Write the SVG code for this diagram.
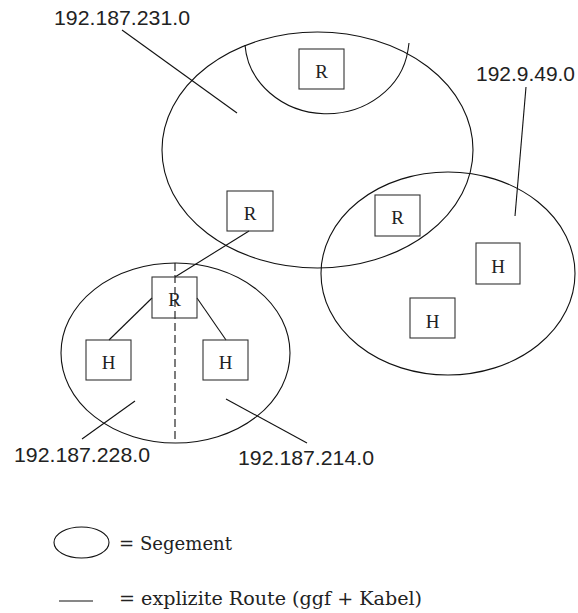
<svg xmlns="http://www.w3.org/2000/svg" width="578" height="613" viewBox="0 0 578 613">
<style>
.seg{fill:none;stroke:#111;stroke-width:1.1}
.box{fill:none;stroke:#333;stroke-width:1.1}
.bt{font-family:"Liberation Serif","Times New Roman",serif;font-size:19px;fill:#222;text-anchor:middle}
.lbl{font-family:"Liberation Sans",Arial,sans-serif;font-size:21px;fill:#222}
.leg{font-family:"DejaVu Serif",serif;font-size:19px;fill:#222}
.ln{stroke:#111;stroke-width:1.1;fill:none}
</style>
<rect width="578" height="613" fill="#fff"/>
<g id="segments">
<ellipse id="seg-231" class="seg" cx="317.5" cy="150" rx="155.5" ry="118"/>
<path id="seg-231-sub" class="seg" d="M245,45 A82,74 0 0 0 408,50 L409,43"/>
<ellipse id="seg-9-49" class="seg" cx="448" cy="273.5" rx="127" ry="101.5"/>
<ellipse id="seg-228-214" class="seg" cx="175.5" cy="353" rx="114.5" ry="90"/>
</g>
<g id="connectors">
<line class="ln" x1="249" y1="231" x2="175" y2="277"/>
<line class="ln" x1="152" y1="298" x2="109" y2="340"/>
<line class="ln" x1="197" y1="298" x2="226" y2="340"/>
<line class="ln" x1="175" y1="263" x2="175" y2="443" stroke-dasharray="8,4"/>
<line class="ln" x1="122" y1="30" x2="237" y2="113"/>
<line class="ln" x1="526" y1="87" x2="515" y2="216"/>
<line class="ln" x1="135" y1="401" x2="82" y2="439"/>
<line class="ln" x1="226" y1="399" x2="307" y2="443"/>
</g>
<g id="r-top"><rect class="box" x="299" y="49" width="45" height="40"/><text class="bt" x="321.5" y="78">R</text></g>
<g id="r-mid"><rect class="box" x="227" y="191" width="46" height="40"/><text class="bt" x="250" y="220">R</text></g>
<g id="r-right"><rect class="box" x="375" y="195" width="45" height="41"/><text class="bt" x="397.5" y="224">R</text></g>
<g id="h-right1"><rect class="box" x="476" y="243" width="44" height="41"/><text class="bt" x="498" y="273">H</text></g>
<g id="h-right2"><rect class="box" x="410" y="298" width="45" height="40"/><text class="bt" x="432.5" y="328">H</text></g>
<g id="r-low"><rect class="box" x="152" y="277" width="45" height="41"/><text class="bt" x="174.5" y="306">R</text></g>
<g id="h-low-left"><rect class="box" x="86" y="340" width="45" height="40"/><text class="bt" x="108.5" y="369">H</text></g>
<g id="h-low-right"><rect class="box" x="203" y="340" width="45" height="40"/><text class="bt" x="225.5" y="369">H</text></g>
<g id="labels">
<text class="lbl" x="54" y="25" textLength="136" lengthAdjust="spacingAndGlyphs">192.187.231.0</text>
<text class="lbl" x="476" y="81" textLength="99" lengthAdjust="spacingAndGlyphs">192.9.49.0</text>
<text class="lbl" x="14" y="462" textLength="136" lengthAdjust="spacingAndGlyphs">192.187.228.0</text>
<text class="lbl" x="238" y="465" textLength="136" lengthAdjust="spacingAndGlyphs">192.187.214.0</text>
</g>
<g id="legend">
<ellipse class="seg" cx="81.5" cy="542.5" rx="27.5" ry="15.5"/>
<text class="leg" x="119" y="550" textLength="113" lengthAdjust="spacingAndGlyphs">= Segement</text>
<line class="ln" x1="59" y1="601" x2="93" y2="601"/>
<text class="leg" x="119" y="605" textLength="303" lengthAdjust="spacingAndGlyphs">= explizite Route (ggf + Kabel)</text>
</g>
</svg>
